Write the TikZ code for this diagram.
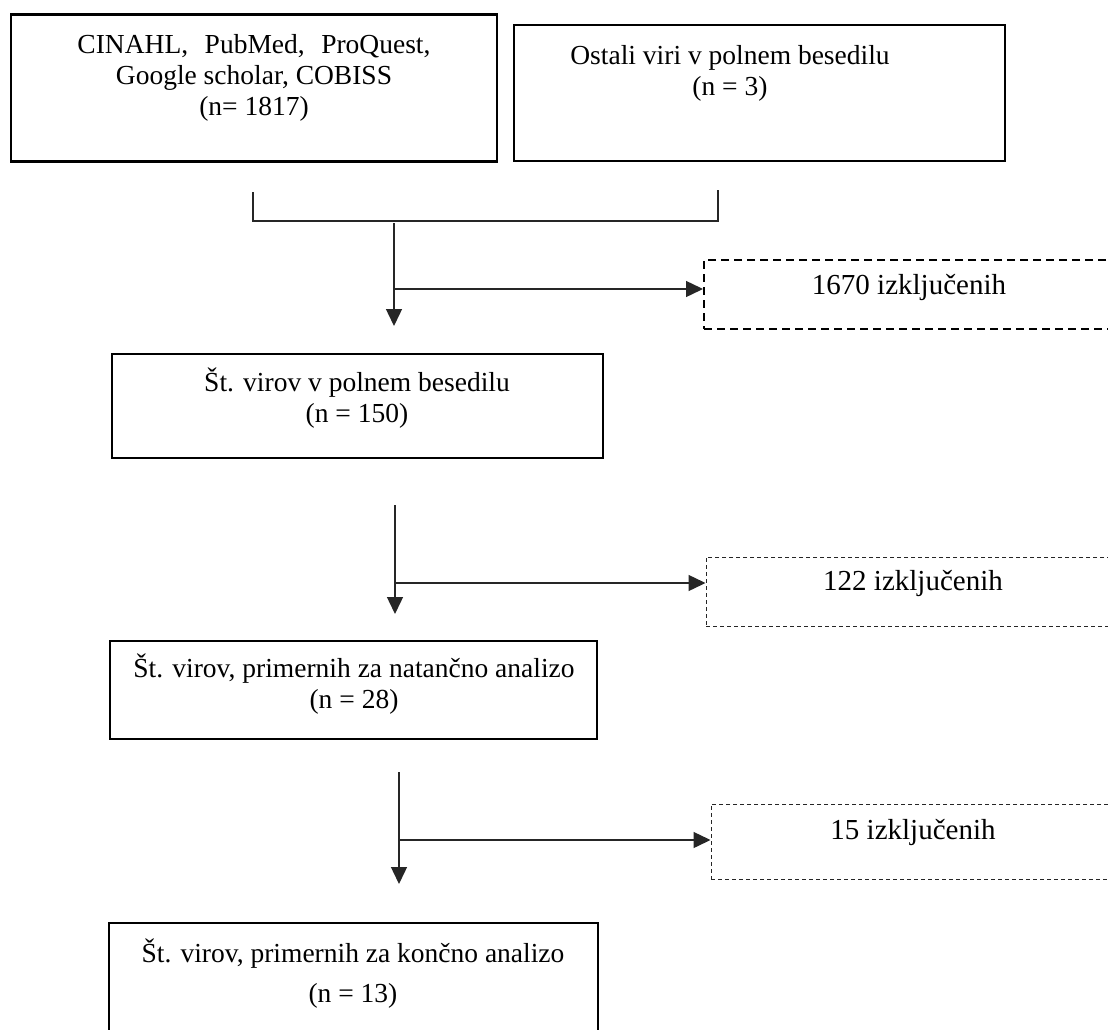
\documentclass[tikz,border=0pt]{standalone}
\usepackage{fontspec}
\setmainfont{Liberation Serif}
\usetikzlibrary{arrows.meta}
\begin{document}
\begin{tikzpicture}[x=1pt,y=-1pt,
  solidbox/.style={draw=black,line width=2.2pt,rectangle,inner sep=0pt},
  dashbox/.style={draw=black,line width=2pt,rectangle,inner sep=0pt,dash pattern=on 8pt off 5pt},
  thindash/.style={draw=black!85,line width=1pt,rectangle,inner sep=0pt,dash pattern=on 4pt off 3pt},
  txt/.style={align=center,inner sep=0pt,font=\fontsize{27.5}{31}\selectfont},
  dtxt/.style={align=center,inner sep=0pt,font=\fontsize{29}{32}\selectfont},
  conn/.style={draw=black!85,line width=1.4pt},
  arr/.style={conn,-{Triangle[length=17pt,width=16pt]}}]
\clip (0,0) rectangle (1108,1030);
\fill[white] (0,0) rectangle (1108,1030);
% boxes
\node[solidbox,minimum width=486pt,minimum height=147pt] (b1) at (254,88) {};
\node[txt] (b1t) at (254,78) {CINAHL,\hspace{0.35em} PubMed,\hspace{0.35em} ProQuest,\\Google scholar, COBISS\\(n= 1817)};
\node[solidbox,minimum width=491pt,minimum height=136pt] (b2) at (759.5,93) {};
\node[txt] (b2t) at (730,73) {Ostali viri v polnem besedilu\\(n = 3)};
\node[solidbox,minimum width=491pt,minimum height=104pt] (b3) at (357.5,406) {};
\node[txt] (b3t) at (357,398) {Št. virov v polnem besedilu\\(n = 150)};
\node[solidbox,minimum width=487pt,minimum height=98pt] (b4) at (353.5,690) {};
\node[txt] (b4t) at (354,684) {Št. virov, primernih za natančno analizo\\(n = 28)};
\node[solidbox,minimum width=489pt,minimum height=120pt] (b5) at (353.5,983) {};
\node[txt,font=\fontsize{27.5}{40}\selectfont] (b5t) at (353,974) {Št. virov, primernih za končno analizo\\(n = 13)};
% dashed boxes
\node[dashbox,minimum width=420pt,minimum height=69pt] (d1) at (914,294.5) {};
\node[dtxt] (d1t) at (909,287) {1670 izključenih};
\node[thindash,minimum width=420pt,minimum height=69pt] (d2) at (916,591.5) {};
\node[dtxt] (d2t) at (913,583) {122 izključenih};
\node[thindash,minimum width=420pt,minimum height=75pt] (d3) at (921,841.5) {};
\node[dtxt] (d3t) at (913,832) {15 izključenih};
% bracket
\coordinate (bl) at (253,192);
\coordinate (br) at (718,190);
\coordinate (bm) at (394,221);
\draw[conn] (bl) -- (bl |- bm) -- (br |- bm) -- (br);
% arrow 1
\coordinate (a1s) at (394,223);
\coordinate (a1e) at (394,326);
\coordinate (a1b) at (394,289);
\draw[arr] (a1s) -- (a1e);
\draw[arr] (a1b) -- (a1b -| d1.west);
% arrow 2
\coordinate (a2s) at (395,505);
\coordinate (a2e) at (395,614);
\coordinate (a2b) at (395,583);
\draw[arr] (a2s) -- (a2e);
\draw[arr] (a2b) -- (a2b -| d2.west);
% arrow 3
\coordinate (a3s) at (399,772);
\coordinate (a3e) at (399,884);
\coordinate (a3b) at (399,840);
\draw[arr] (a3s) -- (a3e);
\draw[arr] (a3b) -- (a3b -| d3.west);
\end{tikzpicture}
\end{document}
